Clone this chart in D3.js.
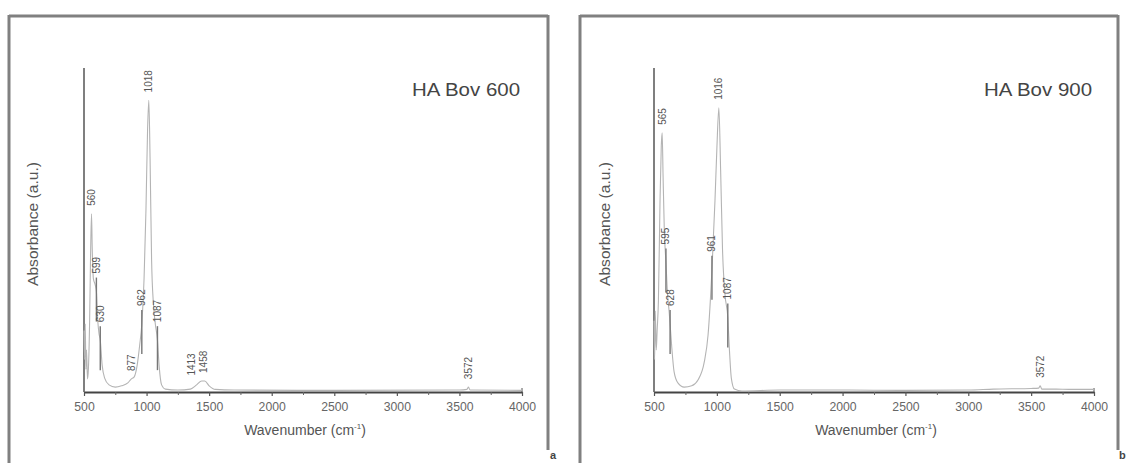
<!DOCTYPE html>
<html><head><meta charset="utf-8">
<script src="https://cdn.jsdelivr.net/npm/d3@7"></script>
<style>html,body{margin:0;padding:0;background:#fff;}svg{display:block;font-family:"Liberation Sans",Arial,sans-serif;}</style>
</head><body>
<svg id="c" width="1126" height="463"></svg>
<script>
// ---- data ----
const wavenumberTicks = [500, 1000, 1500, 2000, 2500, 3000, 3500, 4000];
const minorTicks = [750, 1250, 1750, 2250, 2750, 3250, 3750];

const bov600Wavenumber = [500,505,510,515,520,528,535,545,552,560,566,575,590,599,610,620,630,645,665,700,750,800,850,877,900,925,945,962,980,995,1008,1018,1028,1040,1055,1070,1087,1100,1120,1150,1250,1350,1400,1440,1465,1500,1550,1700,2500,3500,3560,3572,3585,4000];
const bov600Absorbance = [0.19,0.10,0.21,0.07,0.13,0.04,0.07,0.22,0.41,0.55,0.44,0.35,0.33,0.31,0.22,0.18,0.16,0.083,0.043,0.022,0.015,0.019,0.028,0.04,0.046,0.083,0.145,0.21,0.35,0.56,0.81,0.90,0.72,0.41,0.27,0.21,0.16,0.083,0.022,0.009,0.006,0.009,0.022,0.034,0.034,0.019,0.008,0.006,0.005,0.006,0.008,0.015,0.006,0.005];
const bov600Peaks = [560, 599, 630, 877, 962, 1018, 1087, 1413, 1458, 3572];
const bov600Shoulders = [599, 630, 962, 1087];

const bov900Wavenumber = [500,505,510,518,525,535,548,558,565,572,582,595,608,620,628,640,660,690,740,800,850,900,930,961,985,1000,1016,1030,1045,1065,1087,1100,1115,1140,1200,1500,2000,2500,3000,3200,3500,3560,3572,3585,3700,3800,4000];
const bov900Absorbance = [0.22,0.10,0.25,0.13,0.19,0.28,0.59,0.76,0.80,0.67,0.50,0.40,0.30,0.25,0.21,0.145,0.062,0.028,0.015,0.019,0.037,0.093,0.176,0.377,0.59,0.75,0.877,0.685,0.44,0.30,0.23,0.13,0.043,0.009,0.003,0.006,0.006,0.005,0.006,0.009,0.011,0.012,0.019,0.009,0.009,0.008,0.008];
const bov900Peaks = [565, 595, 628, 961, 1016, 1087, 3572];
const bov900Shoulders = [595, 628, 961, 1087];

const panelTitles = ["HA Bov 600", "HA Bov 900"];
const panelLetters = ["a", "b"];

// ---- drawing ----
const svg = d3.select("#c");
const panels = [
  {frameL: 9, frameR: 548, x0: 84, x1: 522, wn: bov600Wavenumber, ab: bov600Absorbance, peaks: bov600Peaks, sh: bov600Shoulders, title: panelTitles[0], letter: panelLetters[0], ylabX: 33, letterX: 550},
  {frameL: 580, frameR: 1118, x0: 654, x1: 1094, wn: bov900Wavenumber, ab: bov900Absorbance, peaks: bov900Peaks, sh: bov900Shoulders, title: panelTitles[1], letter: panelLetters[1], ylabX: 605, letterX: 1119}
];

panels.forEach(p => {
  const g = svg.append("g");
  // frame
  g.append("line").attr("x1", p.frameL).attr("x2", p.frameR).attr("y1", 16).attr("y2", 16).attr("stroke", "#808080").attr("stroke-width", 3);
  g.append("line").attr("x1", p.frameL).attr("x2", p.frameL).attr("y1", 15).attr("y2", 463).attr("stroke", "#808080").attr("stroke-width", 3);
  g.append("line").attr("x1", p.frameR).attr("x2", p.frameR).attr("y1", 15).attr("y2", 450).attr("stroke", "#808080").attr("stroke-width", 3);
  g.append("text").attr("x", p.letterX).attr("y", 459).attr("font-size", 11).attr("font-weight", "bold").attr("fill", "#444").text(p.letter);

  const x = d3.scaleLinear().domain([500, 4000]).range([p.x0, p.x1]);
  const y = d3.scaleLinear().domain([0, 1]).range([392, 68]);

  // y axis (no ticks)
  g.append("line").attr("x1", p.x0).attr("x2", p.x0).attr("y1", 68).attr("y2", 392).attr("stroke", "#555").attr("stroke-width", 1.5);

  // x axis
  const ax = g.append("g").attr("transform", "translate(0,392)")
    .call(d3.axisBottom(x).tickValues(wavenumberTicks).tickSize(4).tickSizeOuter(0).tickPadding(6).tickFormat(d3.format("d")));
  ax.select(".domain").attr("stroke", "#444").attr("stroke-width", 2);
  ax.selectAll(".tick line").attr("stroke", "#555").attr("stroke-width", 1.2);
  ax.selectAll(".tick text").attr("font-size", 12).attr("fill", "#666").attr("font-family", "Liberation Sans, Arial, sans-serif")
    .attr("textLength", d => String(d).length * 6.8).attr("lengthAdjust", "spacingAndGlyphs");
  const axm = g.append("g").attr("transform", "translate(0,392)")
    .call(d3.axisBottom(x).tickValues(minorTicks).tickSize(3).tickFormat(""));
  axm.select(".domain").remove();
  axm.selectAll(".tick line").attr("stroke", "#666");
  g.append("line").attr("x1", x(4000)).attr("x2", x(4000)).attr("y1", 388).attr("y2", 392).attr("stroke", "#555");

  // axis titles
  const xt = g.append("text").attr("x", (p.x0 + p.x1) / 2 + 2).attr("y", 435).attr("text-anchor", "middle")
    .attr("font-size", 14).attr("fill", "#555");
  xt.append("tspan").text("Wavenumber (cm");
  xt.append("tspan").attr("font-size", 8).attr("dy", -6).text("-1");
  xt.append("tspan").attr("dy", 6).text(")");

  g.append("text").attr("transform", `translate(${p.ylabX},224) rotate(-90)`).attr("text-anchor", "middle")
    .attr("dy", "0.35em").attr("font-size", 14).attr("fill", "#555")
    .attr("textLength", 124).attr("lengthAdjust", "spacingAndGlyphs").text("Absorbance (a.u.)");

  g.append("text").attr("x", p.x1 - 2).attr("y", 96).attr("text-anchor", "end").attr("font-size", 18).attr("fill", "#444")
    .attr("textLength", 108).attr("lengthAdjust", "spacingAndGlyphs").text(p.title);

  // spectrum
  const pts = p.wn.map((w, i) => [w, p.ab[i]]);
  const line = d3.line().x(d => x(d[0])).y(d => y(d[1])).curve(d3.curveMonotoneX);
  g.append("path").datum(pts).attr("d", line).attr("fill", "none").attr("stroke", "#b4b4b4").attr("stroke-width", 1.1);

  // peak labels
  const interp = w => {
    const i = d3.bisector(d => d[0]).left(pts, w);
    if (i <= 0) return pts[0][1];
    if (i >= pts.length) return pts[pts.length - 1][1];
    const a = pts[i - 1], b = pts[i];
    return a[1] + (b[1] - a[1]) * (w - a[0]) / (b[0] - a[0]);
  };
  const nonSh = p.peaks.filter(w => !p.sh.includes(w));
  p.peaks.forEach(w => {
    const cy = y(interp(w));
    const isSh = p.sh.includes(w);
    const bottom = isSh ? cy - 18 : cy - 8;
    let lx = x(w);
    if (!isSh) {
      // spread labels that would overlap the next unmarked label
      const k = nonSh.indexOf(w);
      if (k < nonSh.length - 1) {
        const dx = x(nonSh[k + 1]) - lx;
        if (dx < 12) lx -= (12 - dx);
      }
    }
    if (isSh) {
      g.append("line").attr("x1", x(w)).attr("x2", x(w)).attr("y1", cy - 14).attr("y2", cy + 30)
        .attr("stroke", "#777").attr("stroke-width", 1.4);
    }
    g.append("text").attr("transform", `translate(${lx},${bottom}) rotate(-90)`).attr("dy", "0.35em")
      .attr("font-size", 10).attr("fill", "#555").text(w);
  });
});
</script>
</body></html>
